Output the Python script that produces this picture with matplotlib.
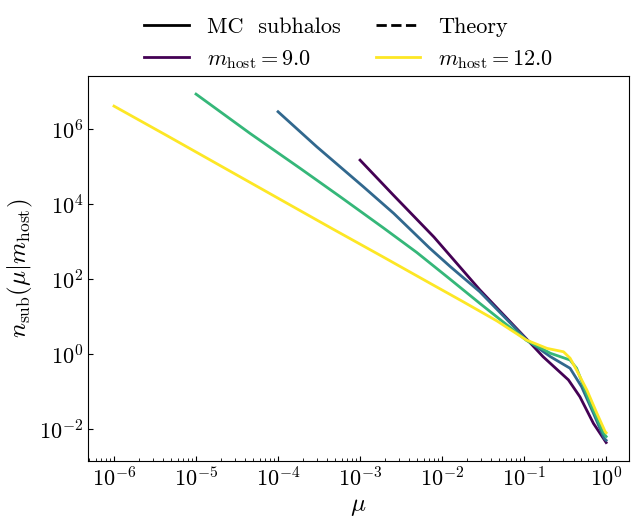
import numpy as np
import matplotlib
matplotlib.use('Agg')
import matplotlib.pyplot as plt
from matplotlib.lines import Line2D
from matplotlib.ticker import NullLocator

plt.rcParams['font.family'] = 'serif'
plt.rcParams['font.serif'] = ['cmr10']
plt.rcParams['mathtext.fontset'] = 'cm'
plt.rcParams['axes.formatter.use_mathtext'] = True
plt.rcParams['xtick.direction'] = 'in'
plt.rcParams['ytick.direction'] = 'in'

# host masses (log10)
m_hosts = [9.0, 10.0, 11.0, 12.0]

# curves, as log10(mu) and log10(n_sub)
logmu_9 = [-3.0, -2.6, -2.1, -1.54, -0.97, -0.77, -0.46, -0.32, -0.155, 0.0]
logn_9 = [5.17, 4.25, 3.12, 1.71, 0.40, -0.07, -0.69, -1.14, -1.85, -2.36]

logmu_10 = [-4.0, -3.53, -2.96, -2.59, -2.15, -1.90, -1.54, -0.97, -0.68, -0.44, -0.30, -0.155, -0.024, 0.0]
logn_10 = [6.46, 5.53, 4.46, 3.75, 2.82, 2.33, 1.66, 0.38, -0.07, -0.38, -0.87, -1.58, -2.25, -2.3]

logmu_11 = [-5.0, -4.34, -3.73, -3.24, -2.72, -2.31, -1.90, -1.54, -0.97, -0.68, -0.44, -0.36, -0.195, -0.033, 0.0]
logn_11 = [6.93, 5.88, 4.95, 4.19, 3.37, 2.71, 1.99, 1.35, 0.36, 0.02, -0.16, -0.38, -1.31, -2.11, -2.2]

logmu_12 = [-6.0, -5.36, -4.67, -3.98, -3.33, -2.72, -2.15, -1.74, -1.33, -0.97, -0.72, -0.52, -0.44, -0.36, -0.235, -0.113, -0.012, 0.0]
logn_12 = [6.61, 5.83, 4.98, 4.13, 3.33, 2.59, 1.89, 1.39, 0.88, 0.37, 0.15, 0.06, -0.11, -0.43, -0.96, -1.58, -2.07, -2.1]

xticks = [1e-6, 1e-5, 1e-4, 1e-3, 1e-2, 1e-1, 1e0]
yticks = [1e-2, 1e0, 1e2, 1e4, 1e6]

curves = [(logmu_9, logn_9), (logmu_10, logn_10), (logmu_11, logn_11), (logmu_12, logn_12)]
colors = plt.cm.viridis(np.linspace(0, 1, len(m_hosts)))

fig = plt.figure(figsize=(6.4, 5.27), dpi=100)
ax = fig.add_axes([0.1375, 0.1252, 0.8455, 0.7306])

for (lx, ly), c in zip(curves, colors):
    ax.plot(10**np.array(lx), 10**np.array(ly), color=c, lw=2)

ax.set_xscale('log')
ax.set_yscale('log')
ax.set_xlim(10**-6.317, 10**0.28)
ax.set_ylim(10**-2.853, 10**7.413)
ax.set_xticks(xticks)
ax.set_yticks(yticks)
ax.yaxis.set_minor_locator(NullLocator())
ax.tick_params(labelsize=16)
ax.set_xlabel(r'$\mu$', fontsize=18)
ax.set_ylabel(r'$n_{\rm sub}(\mu|m_{\rm host})$', fontsize=18)
ax.yaxis.set_label_coords(-0.098, 0.5)

handles = [Line2D([], [], color='k', lw=2),
           Line2D([], [], color=colors[0], lw=2),
           Line2D([], [], color='k', lw=2, ls='--'),
           Line2D([], [], color=colors[-1], lw=2)]
labels = ['MC  subhalos', r'$m_{\rm host}=9.0$', 'Theory', r'$m_{\rm host}=12.0$']
ax.legend(handles, labels, ncol=2, frameon=False, fontsize=16,
          loc='lower center', bbox_to_anchor=(0.482, 0.962),
          handlelength=2.0, handletextpad=0.8, columnspacing=1.6, labelspacing=0.5)

fig.savefig('out.png', dpi=100)
